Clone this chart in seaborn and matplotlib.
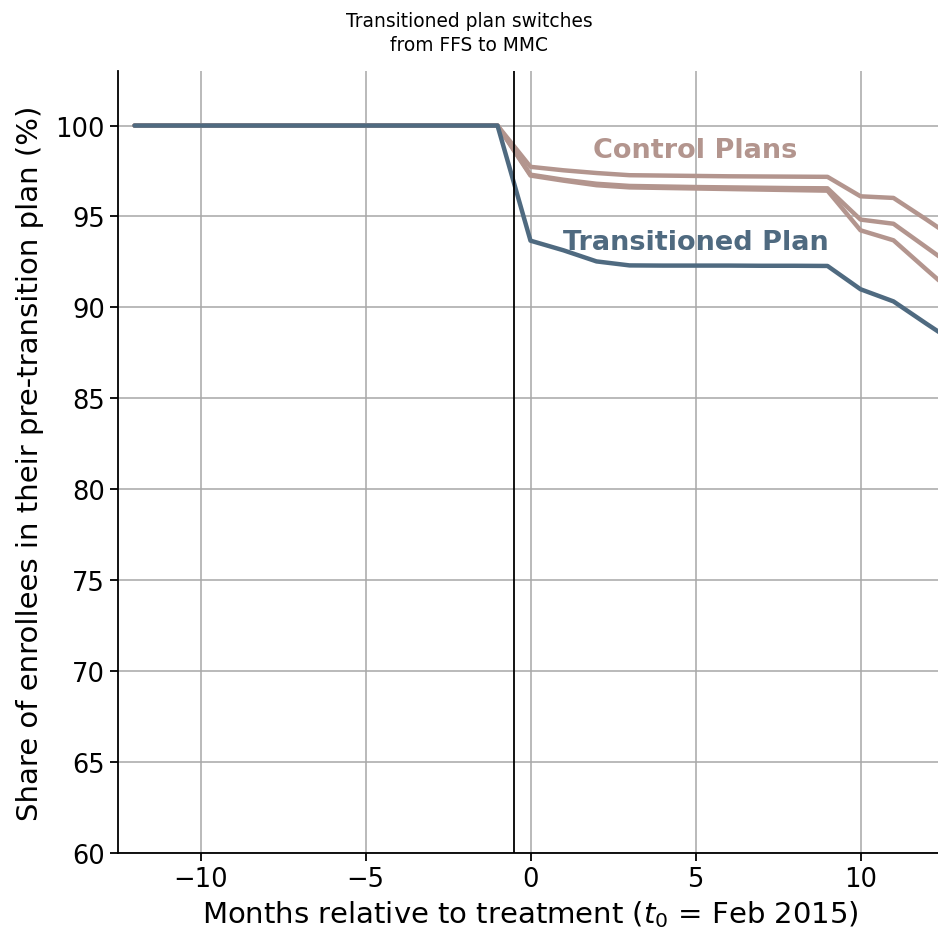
import matplotlib
matplotlib.use("Agg")
import matplotlib.pyplot as plt
import seaborn as sns
import pandas as pd

sns.set_theme(style="ticks")
plt.rcParams["font.family"] = ["DejaVu Sans"]
plt.rcParams["text.color"] = "black"
plt.rcParams["axes.labelcolor"] = "black"
plt.rcParams["xtick.color"] = "black"
plt.rcParams["ytick.color"] = "black"

# Months relative to treatment (t0 = Feb 2015)
months = list(range(-12, 14))

# Share of enrollees remaining in their pre-transition plan (%)
transitioned = [100] * 12 + [93.67, 93.14, 92.53, 92.31, 92.30, 92.30, 92.30,
                             92.29, 92.29, 92.28, 91.0, 90.33, 89.1, 87.9]
control_a = [100] * 12 + [97.73, 97.54, 97.39, 97.27, 97.25, 97.23, 97.21,
                          97.20, 97.19, 97.18, 96.11, 96.02, 94.83, 93.6]
control_b = [100] * 12 + [97.30, 97.02, 96.80, 96.68, 96.65, 96.62, 96.60,
                          96.58, 96.56, 96.55, 94.83, 94.60, 93.30, 92.0]
control_c = [100] * 12 + [97.25, 96.97, 96.72, 96.60, 96.57, 96.54, 96.51,
                          96.48, 96.45, 96.42, 94.24, 93.69, 92.08, 90.5]

series = {
    "Transitioned Plan": transitioned,
    "Control A": control_a,
    "Control B": control_b,
    "Control C": control_c,
}
frames = [pd.DataFrame({"month": months, "share": vals, "plan": name})
          for name, vals in series.items()]
df = pd.concat(frames, ignore_index=True)

blue = "#4f6a80"
rose = "#b3958e"
palette = {"Transitioned Plan": blue, "Control A": rose,
           "Control B": rose, "Control C": rose}

fig = plt.figure(figsize=(9.38, 9.37), dpi=100)
ax = fig.add_axes([118 / 938, 83 / 937, 825 / 938, 782 / 937])

# controls first so the treated plan sits on top
order = ["Control A", "Control B", "Control C", "Transitioned Plan"]
for name in order:
    sub = df[df["plan"] == name]
    sns.lineplot(data=sub, x="month", y="share", color=palette[name],
                 linewidth=3.2, ax=ax, legend=False, zorder=3)

ax.axvline(-0.5, color="black", linewidth=1.3, zorder=4)

ax.set_xlim(-12.5, 12.5)
ax.set_ylim(60, 103)
ax.set_xticks([-10, -5, 0, 5, 10])
ax.set_yticks(range(60, 101, 5))
ax.grid(True, color="#a8a8a8", linewidth=1.3, alpha=0.85)
ax.set_axisbelow(True)
sns.despine(ax=ax)
for side in ("left", "bottom"):
    ax.spines[side].set_linewidth(1.3)
    ax.spines[side].set_color("black")
ax.tick_params(axis="both", labelsize=18.5, length=6, width=1.3, color="black")

ax.set_xlabel("Months relative to treatment ($t_0$ = Feb 2015)", fontsize=21)
ax.set_ylabel("Share of enrollees in their pre-transition plan (%)",
              fontsize=21, labelpad=8)

ax.text(5, 98.65, "Control Plans", color=rose, fontsize=19.5,
        fontweight="bold", ha="center", va="center")
ax.text(5, 93.6, "Transitioned Plan", color=blue, fontsize=19.5,
        fontweight="bold", ha="center", va="center")

fig.text(0.5, 0.987, "Transitioned plan switches\nfrom FFS to MMC",
         ha="center", va="top", fontsize=13.4, linespacing=1.35)

fig.savefig("out.png", dpi=100)
